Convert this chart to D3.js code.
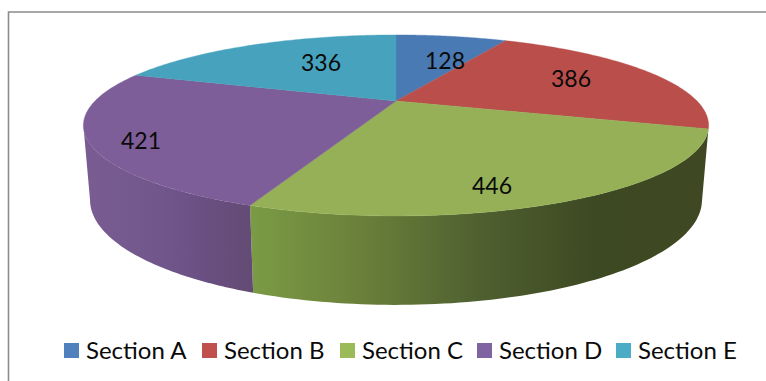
<!DOCTYPE html>
<html>
<head>
<meta charset="utf-8">
<script src="https://cdn.jsdelivr.net/npm/d3@7"></script>
<style>
  html, body { margin: 0; padding: 0; background: #fff; }
  svg { display: block; }
  text { font-family: Lato, "Open Sans", sans-serif; fill: #0a0a0a; }
</style>
</head>
<body>
<svg id="chart" width="766" height="381"></svg>
<script>
// Chart data
const categories = ["Section A", "Section B", "Section C", "Section D", "Section E"];
const values = [128, 386, 446, 421, 336];

// Palette
const legendColors = ["#4f81bd", "#c0504d", "#9bbb59", "#8064a2", "#4bacc6"];
const topColors = ["#4a7ab3", "#b94e4b", "#95b056", "#7d5e98", "#47a3bd"];
const wallStops = {
  "Section C": ["#7b9b45", "#6a7f3a", "#4f6030", "#3d4922", "#3f4822"],
  "Section D": ["#7a5c92", "#745a8e", "#6f558a", "#694f80", "#624b74"]
};

// Layout
const width = 766, height = 381;
const cx = 396, tilt = 0.27;
const topDisc = { a: 301, b: 83.9, y: 101 };
const bottomDisc = { a: 294.6, b: 97.3, y: 171.6 };
const labelAt = [[445, 60], [571, 78], [492, 185], [141, 140], [321, 62]];
const swatchX = [64, 202, 340, 477, 616];
const legendY = 350.5, swatchSize = 15, swatchGap = 7;

const svg = d3.select("#chart");

// Perspective projection of a unit-disc point, angle clockwise from the back of the disc
const project = (disc, angle) => {
  const u = Math.sin(angle), v = Math.cos(angle), w = 1 + tilt * v;
  return [cx + disc.a * u / w, disc.y - disc.b * v / w];
};

const arcPoints = (disc, start, end) =>
  d3.range(0, 1.0001, 1 / 80).map(t => project(disc, start + (end - start) * t));

const pie = d3.pie().sort(null);
const slices = pie(values);
const line = d3.line();
const defs = svg.append("defs");

// Angle at which the disc outline turns away from the viewer on the left side
const leftSilhouette = 2 * Math.PI - Math.acos(-tilt);

// Frame: top and left rules
svg.append("path")
  .attr("d", d3.line()([[8.5, height], [8.5, 12], [width, 12]]))
  .attr("fill", "none")
  .attr("stroke", "#8c8c8c")
  .attr("stroke-width", 1.6);

// Outer walls of the slices facing the viewer
slices.forEach((s, i) => {
  const stops = wallStops[categories[i]];
  if (!stops) return;
  const end = Math.min(s.endAngle, leftSilhouette);
  const upper = arcPoints(topDisc, s.startAngle, end);
  const lower = arcPoints(bottomDisc, s.startAngle, end);
  const xs = d3.extent(upper.concat(lower), p => p[0]);
  const id = "wall" + i;
  const grad = defs.append("linearGradient")
    .attr("id", id)
    .attr("gradientUnits", "userSpaceOnUse")
    .attr("x1", xs[0]).attr("x2", xs[1]).attr("y1", 0).attr("y2", 0);
  stops.forEach((c, j) => {
    grad.append("stop").attr("offset", j / (stops.length - 1)).attr("stop-color", c);
  });
  svg.append("path")
    .attr("d", line(upper.concat(lower.slice().reverse())) + "Z")
    .attr("fill", `url(#${id})`);
});

// Top face of every slice
svg.append("g").selectAll("path")
  .data(slices)
  .join("path")
  .attr("d", s => line([[cx, topDisc.y]].concat(arcPoints(topDisc, s.startAngle, s.endAngle))) + "Z")
  .attr("fill", (s, i) => topColors[i])
  .attr("stroke", (s, i) => topColors[i])
  .attr("stroke-width", 0.4);

// Value labels
svg.append("g").selectAll("text")
  .data(values)
  .join("text")
  .attr("x", (d, i) => labelAt[i][0])
  .attr("y", (d, i) => labelAt[i][1])
  .attr("text-anchor", "middle")
  .attr("dominant-baseline", "central")
  .attr("font-size", 23)
  .text(d => d);

// Legend
const legend = svg.append("g").selectAll("g")
  .data(categories)
  .join("g")
  .attr("transform", (d, i) => `translate(${swatchX[i]},${legendY})`);
legend.append("rect")
  .attr("y", -swatchSize / 2)
  .attr("width", swatchSize)
  .attr("height", swatchSize)
  .attr("fill", (d, i) => legendColors[i]);
legend.append("text")
  .attr("x", swatchSize + swatchGap)
  .attr("y", -1.5)
  .attr("dominant-baseline", "central")
  .attr("font-size", 24)
  .text(d => d);
</script>
</body>
</html>
